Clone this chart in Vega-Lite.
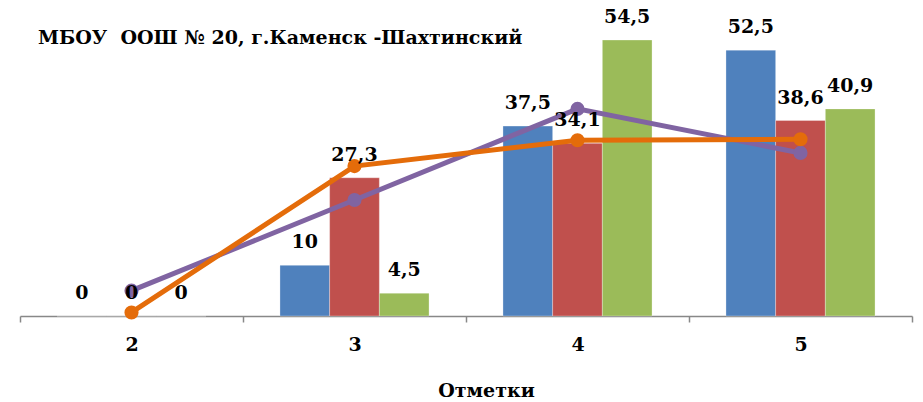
{
  "$schema": "https://vega.github.io/schema/vega-lite/v6.json",
  "width": 892,
  "height": 316,
  "autosize": {"type": "none"},
  "padding": {"left": 20, "top": 0, "right": 11, "bottom": 86},
  "background": "white",
  "title": {
    "text": "МБОУ\u00a0 ООШ № 20, г.Каменск -Шахтинский",
    "anchor": "start",
    "frame": "group",
    "font": "DejaVu Serif",
    "fontWeight": "bold",
    "fontSize": 19,
    "color": "black",
    "baseline": "middle",
    "dx": 18,
    "dy": 20,
    "offset": -37
  },
  "config": {
    "view": {"stroke": null},
    "locale": {"number": {"decimal": ",", "thousands": " ", "grouping": [3], "currency": ["", " ₽"]}}
  },
  "datasets": {
    "bars": [
      {"cat": "2", "series": "Ряд1", "value": 0},
      {"cat": "2", "series": "Ряд2", "value": 0},
      {"cat": "2", "series": "Ряд3", "value": 0},
      {"cat": "3", "series": "Ряд1", "value": 10},
      {"cat": "3", "series": "Ряд2", "value": 27.3},
      {"cat": "3", "series": "Ряд3", "value": 4.5},
      {"cat": "4", "series": "Ряд1", "value": 37.5},
      {"cat": "4", "series": "Ряд2", "value": 34.1},
      {"cat": "4", "series": "Ряд3", "value": 54.5},
      {"cat": "5", "series": "Ряд1", "value": 52.5},
      {"cat": "5", "series": "Ряд2", "value": 38.6},
      {"cat": "5", "series": "Ряд3", "value": 40.9}
    ],
    "lines": [
      {"cat": "2", "series": "Ряд4", "value": 5.0},
      {"cat": "3", "series": "Ряд4", "value": 22.9},
      {"cat": "4", "series": "Ряд4", "value": 40.9},
      {"cat": "5", "series": "Ряд4", "value": 32.2},
      {"cat": "2", "series": "Ряд5", "value": 0.7},
      {"cat": "3", "series": "Ряд5", "value": 29.6},
      {"cat": "4", "series": "Ряд5", "value": 34.7},
      {"cat": "5", "series": "Ряд5", "value": 34.9}
    ]
  },
  "encoding": {
    "x": {
      "field": "cat",
      "type": "nominal",
      "sort": ["2", "3", "4", "5"],
      "scale": {"paddingInner": 0, "paddingOuter": 0},
      "axis": {
        "title": "Отметки",
        "labelAngle": 0,
        "labelFont": "DejaVu Serif",
        "labelFontWeight": "bold",
        "labelFontSize": 19,
        "labelColor": "black",
        "labelPadding": 13,
        "tickBand": "extent",
        "tickSize": 6,
        "tickColor": "#888888",
        "tickWidth": 1.5,
        "domainColor": "#888888",
        "domainWidth": 1.5,
        "titleFont": "DejaVu Serif",
        "titleFontWeight": "bold",
        "titleFontSize": 19,
        "titleColor": "black",
        "titleBaseline": "middle",
        "titleX": 466,
        "titleY": 74,
        "titleAnchor": "start",
        "titleAlign": "center"
      }
    },
    "y": {
      "field": "value",
      "type": "quantitative",
      "scale": {"domain": [0, 62.4], "nice": false, "zero": true},
      "axis": null
    },
    "color": {
      "field": "series",
      "type": "nominal",
      "scale": {
        "domain": ["Ряд1", "Ряд2", "Ряд3", "Ряд4", "Ряд5"],
        "range": ["#4F81BD", "#C0504D", "#9BBB59", "#8064A2", "#E46C0A"]
      },
      "legend": null
    }
  },
  "layer": [
    {
      "data": {"name": "bars"},
      "mark": {"type": "bar", "stroke": "white", "strokeWidth": 0.5, "strokeOpacity": 0.6},
      "encoding": {"xOffset": {"field": "series", "type": "nominal", "scale": {"paddingInner": 0, "paddingOuter": 0.744}}}
    },
    {
      "data": {"name": "lines"},
      "mark": {"type": "line", "strokeWidth": 5},
      "encoding": {}
    },
    {
      "data": {"name": "lines"},
      "mark": {"type": "point", "filled": true, "opacity": 1, "size": 200},
      "encoding": {}
    },
    {
      "data": {"name": "bars"},
      "mark": {
        "type": "text",
        "baseline": "middle",
        "dy": -23,
        "font": "DejaVu Serif",
        "fontWeight": "bold",
        "fontSize": 19,
        "color": "black"
      },
      "encoding": {
        "xOffset": {"field": "series", "type": "nominal", "scale": {"paddingInner": 0, "paddingOuter": 0.744}},
        "text": {"field": "value", "type": "quantitative", "format": ".3~g"},
        "color": {"value": "black"}
      }
    }
  ]
}
